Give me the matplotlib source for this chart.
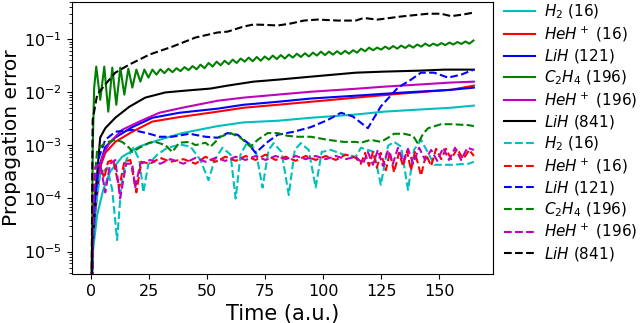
import numpy as np
import matplotlib

matplotlib.use("Agg")
import matplotlib.pyplot as plt

# ---- data (time in a.u., propagation error) ----
FLOOR = 1e-7  # error at t = 0, below the visible range

# solid lines
t_h2_16 = [0, 0.86, 2.6, 5.2, 8.2, 13.4, 20.8, 29.4, 39.3, 54.5, 65.7, 80.4, 94.7, 114.1, 126.2, 140.9, 155.2, 165]
e_h2_16 = [FLOOR, 1.1e-5, 4.9e-5, 1.45e-4, 3.2e-4, 6.1e-4, 9.5e-4, 1.27e-3, 1.7e-3, 2.3e-3, 2.7e-3, 2.9e-3,
           3.3e-3, 3.8e-3, 4.3e-3, 4.7e-3, 5.1e-3, 5.6e-3]

t_heh_16 = [0, 0.43, 1.7, 3.9, 6.1, 10.4, 17.7, 26.4, 38.0, 54.5, 65.7, 80.4, 94.7, 114.1, 133.6, 155.2, 165]
e_heh_16 = [FLOOR, 1.1e-5, 5e-5, 3.9e-4, 7.2e-4, 1.16e-3, 1.8e-3, 2.8e-3, 3.4e-3, 4.3e-3, 5.1e-3, 5.8e-3,
            6.6e-3, 7.9e-3, 9.4e-3, 1.11e-2, 1.33e-2]

t_lih_121 = [0, 0.43, 1.7, 3.5, 6.1, 10.4, 17.7, 26.4, 38.0, 54.5, 65.7, 80.4, 94.7, 114.1, 133.6, 155.2, 165]
e_lih_121 = [FLOOR, 8.6e-6, 6e-5, 3.9e-4, 9.3e-4, 1.4e-3, 2.2e-3, 3.3e-3, 4.1e-3, 4.9e-3, 5.8e-3, 6.6e-3,
             7.6e-3, 8.6e-3, 9.8e-3, 1.11e-2, 1.22e-2]

# C2H4 (196): oscillates with a period of ~3.4 a.u., sampled at every peak / trough
t_c2h4_196 = [0, 0.7, 1.3] + list(np.round(2.2 + 1.73 * np.arange(95), 2))
e_c2h4_196 = [FLOOR, 1e-3, 1.2e-2,
              0.0303, 0.0072, 0.0303, 0.0043, 0.029, 0.0058, 0.029, 0.009, 0.0277, 0.0122,
              0.0266, 0.0158, 0.0266, 0.0188, 0.0266, 0.0214, 0.027, 0.0228, 0.0277, 0.0238,
              0.0283, 0.0249, 0.0297, 0.026, 0.031, 0.027, 0.033, 0.0283, 0.0355, 0.0303,
              0.0376, 0.0322, 0.039, 0.0337, 0.041, 0.0355, 0.043, 0.0376, 0.0448, 0.0383,
              0.046, 0.039, 0.047, 0.041, 0.0489, 0.042, 0.050, 0.043, 0.051, 0.0448,
              0.053, 0.046, 0.054, 0.047, 0.0555, 0.0489, 0.058, 0.050, 0.058, 0.051,
              0.059, 0.052, 0.060, 0.053, 0.0617, 0.0555, 0.066, 0.059, 0.069, 0.0617,
              0.069, 0.0634, 0.072, 0.065, 0.074, 0.066, 0.0754, 0.068, 0.077, 0.069,
              0.079, 0.072, 0.082, 0.074, 0.082, 0.0754, 0.084, 0.077, 0.086, 0.079,
              0.088, 0.081, 0.090, 0.082, 0.094]

t_heh_196 = [0, 0.43, 1.3, 2.6, 4.8, 7.8, 13.4, 20.8, 29.4, 39.3, 54.5, 65.7, 80.4, 94.7, 114.1, 126.2,
             140.9, 155.2, 165]
e_heh_196 = [FLOOR, 1.1e-5, 9.4e-5, 2.2e-4, 6e-4, 1.1e-3, 1.96e-3, 2.8e-3, 4.1e-3, 5.1e-3, 6.9e-3, 7.9e-3,
             9.0e-3, 1.02e-2, 1.16e-2, 1.27e-2, 1.39e-2, 1.52e-2, 1.58e-2]

t_lih_841 = [0, 0.43, 2.2, 3.9, 6.1, 10.4, 16.4, 23.3, 32.0, 40.6, 51.4, 58.8, 70.0, 80.4, 94.7, 114.1,
             126.2, 140.9, 152.2, 165]
e_lih_841 = [FLOOR, 1.65e-5, 1.8e-4, 1.4e-3, 2.1e-3, 3.3e-3, 5.3e-3, 7.9e-3, 9.9e-3, 1.07e-2, 1.17e-2,
             1.33e-2, 1.58e-2, 1.72e-2, 1.96e-2, 2.33e-2, 2.44e-2, 2.54e-2, 2.66e-2, 2.66e-2]

# dashed lines
td_h2_16 = [0, 0.86, 1.7, 3.9, 6.9, 9.1, 11.2, 13.0, 15.1, 18.2, 20.8, 22.5, 24.6, 28.5, 32.9, 38.5,
            42.8, 47.1, 50.6, 53.2, 56.6, 60.1, 62.3, 64.4, 67.4, 70.9, 73.9, 76.5, 78.7, 82.1, 85.2,
            87.8, 90.4, 93.8, 96.8, 99.4, 103.3, 108.9, 114.1, 116.3, 119.3, 121.9, 124.9, 128.0,
            130.6, 133.6, 136.6, 139.2, 142.2, 145.3, 147.9, 155.2, 162.6, 165]
ed_h2_16 = [FLOOR, 1.65e-5, 6.1e-5, 2.8e-4, 3.8e-4, 1.45e-4, 1.65e-5, 1.8e-4, 5.3e-4, 9e-4, 5.3e-4,
            1.3e-4, 4.3e-4, 6.7e-4, 9e-4, 1.03e-3, 9.5e-4, 5.3e-4, 2.2e-4, 5.3e-4, 9e-4, 6.7e-4,
            1.0e-4, 6.7e-4, 1.16e-3, 8.2e-4, 1.6e-4, 8.2e-4, 1.1e-3, 7.5e-4, 1.16e-4, 8.2e-4,
            1.1e-3, 8.2e-4, 1.6e-4, 7.5e-4, 8.2e-4, 6.7e-4, 6.1e-4, 9e-4, 8.2e-4, 7.5e-4, 1.8e-4,
            9.8e-4, 1.16e-3, 9.5e-4, 1.45e-4, 8.2e-4, 1.27e-3, 7.2e-4, 4.3e-4, 4.3e-4, 4.5e-4, 4.9e-4]

td_heh_16 = [0, 0.86, 1.7, 3.9, 5.6, 7.3, 9.5, 12.1, 14.3, 16.9, 19.5, 21.6, 25.5, 29.8, 34.2, 39.8,
             45.0, 49.3, 53.6, 57.9, 62.3, 66.6, 70.9, 75.2, 79.5, 83.9, 88.2, 92.5, 96.8, 101.2,
             105.5, 109.8, 114.1, 116.3, 118.1, 119.8, 121.5, 123.2, 124.9, 127.1, 128.8, 130.6,
             132.7, 134.5, 136.2, 137.9, 139.6, 142.2, 144.4, 146.6, 148.7, 150.9, 153.0, 155.2,
             157.8, 160.4, 163.0, 165]
ed_heh_16 = [FLOOR, 3.9e-5, 2.2e-4, 4.3e-4, 2.4e-4, 4.9e-4, 5.3e-4, 1.6e-4, 4.9e-4, 5.3e-4, 1.3e-4,
             4.9e-4, 4.5e-4, 5.8e-4, 4.9e-4, 5.5e-4, 4.5e-4, 6.1e-4, 4.9e-4, 6.1e-4, 5.1e-4, 6.3e-4,
             5.3e-4, 6.7e-4, 5.3e-4, 6.1e-4, 5.1e-4, 6.3e-4, 5.3e-4, 6.3e-4, 5.3e-4, 6.7e-4, 5.8e-4,
             4.5e-4, 7.2e-4, 4.1e-4, 7.5e-4, 3.8e-4, 7.2e-4, 3.4e-4, 7.5e-4, 3.1e-4, 7.2e-4, 4.1e-4,
             7.8e-4, 3.4e-4, 7.5e-4, 2.7e-4, 6.7e-4, 4.1e-4, 8.6e-4, 5.5e-4, 8.6e-4, 5.5e-4, 8.6e-4,
             5.5e-4, 8.2e-4, 6.3e-4]

td_lih_121 = [0, 0.86, 1.7, 3.5, 6.1, 10.4, 17.7, 25.1, 29.4, 35.0, 42.4, 49.3, 54.5, 58.8, 63.1, 67.4,
              70.9, 76.1, 80.4, 87.3, 94.7, 102.0, 107.7, 112.8, 119.3, 124.9, 132.3, 137.9, 142.2,
              147.9, 153.9, 159.5, 165]
ed_lih_121 = [FLOOR, 2.5e-5, 9.4e-5, 6.2e-4, 1.27e-3, 1.8e-3, 1.96e-3, 1.65e-3, 1.45e-3, 1.45e-3,
              1.65e-3, 1.45e-3, 1.39e-3, 1.7e-3, 1.58e-3, 1.12e-3, 7.2e-4, 1.16e-3, 1.58e-3, 1.8e-3,
              2.2e-3, 3.0e-3, 4.1e-3, 3.5e-3, 2.1e-3, 5.4e-3, 1.22e-2, 1.72e-2, 2.33e-2, 2.33e-2,
              1.88e-2, 2.14e-2, 2.66e-2]

td_c2h4_196 = [0, 0.86, 1.7, 2.6, 6.1, 10.4, 13.4, 16.4, 17.7, 20.8, 25.1, 27.7, 32.0, 35.0, 38.0,
               42.4, 45.0, 49.3, 51.4, 55.8, 60.1, 64.4, 68.7, 71.8, 76.1, 80.4, 84.7, 89.1, 94.7,
               102.0, 108.9, 114.1, 116.3, 120.6, 124.9, 128.0, 130.6, 134.9, 138.8, 140.9, 143.1,
               145.3, 150.9, 155.2, 162.6, 165]
ed_c2h4_196 = [FLOOR, 9.4e-5, 2.9e-4, 8.2e-4, 1.12e-3, 1.27e-3, 1.16e-3, 9e-4, 7.5e-4, 9e-4, 1.12e-3,
               1.16e-3, 1.01e-3, 7.5e-4, 1.12e-3, 1.16e-3, 1.01e-3, 1.12e-3, 9.4e-4, 1.45e-3, 1.7e-3,
               1.39e-3, 9.4e-4, 1.27e-3, 1.7e-3, 1.7e-3, 1.51e-3, 1.45e-3, 1.45e-3, 1.27e-3, 1.16e-3,
               1.16e-3, 1.12e-3, 1.27e-3, 1.16e-3, 1.39e-3, 1.65e-3, 1.65e-3, 1.51e-3, 1.07e-3,
               1.65e-3, 2.1e-3, 2.5e-3, 2.5e-3, 2.4e-3, 2.3e-3]

td_heh_196 = [0, 0.86, 1.7, 3.9, 6.1, 8.2, 10.4, 12.5, 15.1, 17.7, 19.0, 21.2, 25.5, 29.8, 34.2, 39.8,
              45.0, 49.3, 53.6, 57.9, 62.3, 66.6, 70.9, 75.2, 79.5, 83.9, 88.2, 92.5, 96.8, 101.2,
              105.5, 109.8, 114.1, 117.2, 119.3, 121.5, 123.6, 125.8, 128.0, 130.1, 132.3, 134.5,
              136.6, 138.8, 141.4, 144.0, 146.6, 149.2, 151.8, 154.3, 156.9, 159.5, 162.2, 165]
ed_heh_196 = [FLOOR, 3.9e-5, 3.8e-4, 4.5e-4, 1.3e-4, 4.5e-4, 5.3e-4, 1e-4, 4.5e-4, 4.5e-4, 1.6e-4,
              4.5e-4, 5.3e-4, 4.5e-4, 5.5e-4, 4.5e-4, 5.8e-4, 4.9e-4, 5.8e-4, 5.1e-4, 6.1e-4, 5.3e-4,
              6.3e-4, 5.3e-4, 6.3e-4, 5.5e-4, 6.3e-4, 5.5e-4, 6.3e-4, 5.5e-4, 6.3e-4, 5.5e-4, 6.1e-4,
              4.5e-4, 7.5e-4, 4.3e-4, 8.2e-4, 4.1e-4, 8.2e-4, 4.5e-4, 9e-4, 4.9e-4, 8.6e-4, 4.5e-4,
              9e-4, 5.3e-4, 8.2e-4, 5.1e-4, 9e-4, 5.3e-4, 9e-4, 5.3e-4, 9e-4, 8.2e-4]

td_lih_841 = [0, 0.65, 2.6, 6.1, 10.4, 16.4, 25.1, 35.0, 45.0, 54.5, 58.8, 65.7, 70.0, 75.2, 80.4, 86.0,
              91.7, 97.7, 106.4, 114.1, 117.6, 120.6, 123.6, 133.6, 145.3, 150.9, 155.2, 160.4, 165]
ed_lih_841 = [FLOOR, 3e-3, 9.0e-3, 1.4e-2, 2.33e-2, 3.3e-2, 5.1e-2, 7.2e-2, 0.107, 0.133, 0.138, 0.172,
              0.188, 0.185, 0.180, 0.196, 0.223, 0.233, 0.223, 0.223, 0.25, 0.24, 0.233, 0.266, 0.30,
              0.30, 0.27, 0.29, 0.316]

labels = [r"$H_2$ (16)", r"$HeH^+$ (16)", r"$LiH$ (121)", r"$C_2H_4$ (196)", r"$HeH^+$ (196)", r"$LiH$ (841)"]
colors = ["c", "r", "b", "g", "m", "k"]

solid = [(t_h2_16, e_h2_16), (t_heh_16, e_heh_16), (t_lih_121, e_lih_121),
         (t_c2h4_196, e_c2h4_196), (t_heh_196, e_heh_196), (t_lih_841, e_lih_841)]
dashed = [(td_h2_16, ed_h2_16), (td_heh_16, ed_heh_16), (td_lih_121, ed_lih_121),
          (td_c2h4_196, ed_c2h4_196), (td_heh_196, ed_heh_196), (td_lih_841, ed_lih_841)]

fig = plt.figure(figsize=(6.4, 3.23), dpi=100)
ax = fig.add_axes([0.1125, 0.152, 0.6578, 0.842])

for (t, e), c, lab in zip(solid, colors, labels):
    ax.plot(t, e, color=c, lw=1.5, label=lab)
for (t, e), c, lab in zip(dashed, colors, labels):
    ax.plot(t, e, color=c, lw=1.5, ls="--", label=lab)

ax.set_yscale("log")
ax.set_xlim(-8.25, 173.25)
ax.set_ylim(3.8e-6, 0.5)
ax.set_xticks([0, 25, 50, 75, 100, 125, 150])
ax.tick_params(labelsize=11.5)
ax.set_xlabel("Time (a.u.)", fontsize=15)
ax.set_ylabel("Propagation error", fontsize=14.5, labelpad=2)

ax.legend(loc="upper left", bbox_to_anchor=(501 / 640, 1.0), bbox_transform=fig.transFigure,
          frameon=False, fontsize=11, handlelength=2.0, handletextpad=0.6, labelspacing=0.22,
          borderpad=0.2, borderaxespad=0.0)

fig.savefig("out.png", dpi=100)
